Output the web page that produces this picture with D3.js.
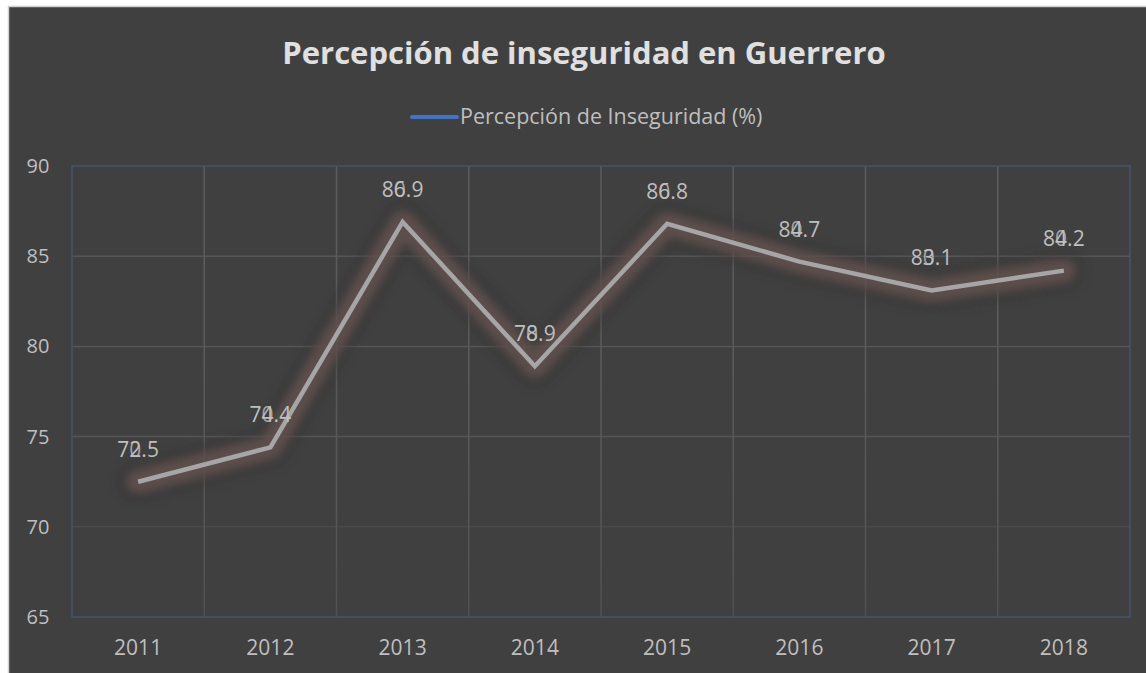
<!DOCTYPE html>
<html>
<head>
<meta charset="utf-8">
<script src="https://cdn.jsdelivr.net/npm/d3@7"></script>
<style>
  body { margin: 0; background: #fff; }
  text { font-family: "Open Sans", sans-serif; }
</style>
</head>
<body>
<script>
var years = ["2011", "2012", "2013", "2014", "2015", "2016", "2017", "2018"];
var values = [72.5, 74.4, 86.9, 78.9, 86.8, 84.7, 83.1, 84.2];
var yTicks = [65, 70, 75, 80, 85, 90];
var seriesName = "Percepción de Inseguridad (%)";

var W = 1146, H = 673;

var svg = d3.select("body").append("svg")
  .attr("width", W)
  .attr("height", H);

var defs = svg.append("defs");

var glow = defs.append("filter")
  .attr("id", "glow")
  .attr("x", "-20%").attr("y", "-50%")
  .attr("width", "140%").attr("height", "200%");
glow.append("feGaussianBlur").attr("stdDeviation", 5);

var grad = defs.append("linearGradient")
  .attr("id", "gridGrad")
  .attr("gradientUnits", "userSpaceOnUse")
  .attr("x1", 0).attr("y1", 166).attr("x2", 0).attr("y2", 617);
grad.append("stop").attr("offset", "0%").attr("stop-color", "#5c5c5c");
grad.append("stop").attr("offset", "50%").attr("stop-color", "#555555");
grad.append("stop").attr("offset", "90%").attr("stop-color", "#444444");
grad.append("stop").attr("offset", "100%").attr("stop-color", "#404040");

// chart background
svg.append("rect")
  .attr("x", 8.5).attr("y", 6.5)
  .attr("width", W).attr("height", H)
  .attr("fill", "#404040")
  .attr("stroke", "#d0d0d0")
  .attr("stroke-width", 1.5);

var margin = { top: 166, right: 16, bottom: 56, left: 72 };
var width = W - margin.left - margin.right;
var height = H - margin.top - margin.bottom;

var g = svg.append("g")
  .attr("transform", "translate(" + margin.left + "," + margin.top + ")");

svg.append("text")
  .attr("x", 584)
  .attr("y", 64)
  .attr("text-anchor", "middle")
  .style("font-size", "31px")
  .style("font-weight", "bold")
  .attr("fill", "#e0e0e0")
  .text("Percepción de inseguridad en Guerrero");

// legend
svg.append("line")
  .attr("x1", 412).attr("x2", 457)
  .attr("y1", 117).attr("y2", 117)
  .attr("stroke", "#4472c4")
  .attr("stroke-width", 4)
  .attr("stroke-linecap", "round");
svg.append("text")
  .attr("x", 460).attr("y", 124)
  .style("font-size", "21.5px")
  .attr("fill", "#bfbfbf")
  .text(seriesName);

var xScale = d3.scaleBand().domain(years).range([0, width]);
var yScale = d3.scaleLinear().domain([65, 90]).range([height, 0]);

// gridlines
g.selectAll(".hgrid")
  .data(yTicks.slice(1, -1))
  .enter().append("line")
  .attr("x1", 0).attr("x2", width)
  .attr("y1", function(d) { return yScale(d); })
  .attr("y2", function(d) { return yScale(d); })
  .attr("stroke", function(d) { return d <= 70 ? "#494949" : "#565656"; })
  .attr("stroke-width", 1.5);

g.selectAll(".vgrid")
  .data(years.slice(1))
  .enter().append("line")
  .attr("x1", function(d) { return xScale(d); })
  .attr("x2", function(d) { return xScale(d); })
  .attr("y1", 0).attr("y2", height)
  .attr("stroke", "url(#gridGrad)")
  .attr("stroke-width", 1.5);

// plot border
g.append("rect")
  .attr("x", 0).attr("y", 0)
  .attr("width", width).attr("height", height)
  .attr("fill", "none")
  .attr("stroke", "#44546a")
  .attr("stroke-width", 1.5);

// axes labels
g.selectAll(".ylab")
  .data(yTicks)
  .enter().append("text")
  .attr("x", -34)
  .attr("y", function(d) { return yScale(d) + 7; })
  .attr("text-anchor", "middle")
  .style("font-size", "20px")
  .attr("fill", "#bfbfbf")
  .text(function(d) { return d; });

g.selectAll(".xlab")
  .data(years)
  .enter().append("text")
  .attr("x", function(d) { return xScale(d) + xScale.bandwidth() / 2; })
  .attr("y", height + 38)
  .attr("text-anchor", "middle")
  .style("font-size", "21px")
  .attr("fill", "#bfbfbf")
  .text(function(d) { return d; });

var line = d3.line()
  .x(function(d, i) { return xScale(years[i]) + xScale.bandwidth() / 2; })
  .y(function(d) { return yScale(d); });

// soft halo under the line
g.append("path")
  .datum(values)
  .attr("d", line)
  .attr("fill", "none")
  .attr("stroke", "#2f2f2f")
  .attr("stroke-width", 40)
  .attr("stroke-linejoin", "round")
  .attr("stroke-linecap", "round")
  .attr("opacity", 0.35)
  .attr("filter", "url(#glow)");

g.append("path")
  .datum(values)
  .attr("d", line)
  .attr("fill", "none")
  .attr("stroke", "#64534f")
  .attr("stroke-width", 24)
  .attr("stroke-linejoin", "round")
  .attr("stroke-linecap", "round")
  .attr("opacity", 0.85)
  .attr("filter", "url(#glow)");

g.append("path")
  .datum(values)
  .attr("d", line)
  .attr("fill", "none")
  .attr("stroke", "#a6a6a6")
  .attr("stroke-width", 4.5)
  .attr("stroke-linejoin", "miter");

// data labels: a "0" is printed over the second digit, as in the original
var labels = g.selectAll(".dlab")
  .data(values)
  .enter().append("text")
  .attr("x", function(d, i) { return xScale(years[i]) + xScale.bandwidth() / 2; })
  .attr("y", function(d) { return yScale(d) - 25; })
  .attr("text-anchor", "middle")
  .style("font-size", "21px")
  .attr("fill", "#bfbfbf");

labels.append("tspan").text(function(d) { return d.toFixed(1).slice(0, 2); });
labels.append("tspan").attr("dx", "-0.572em").attr("fill-opacity", 0.8).text("0");
labels.append("tspan").text(function(d) { return d.toFixed(1).slice(2); });
</script>
</body>
</html>
